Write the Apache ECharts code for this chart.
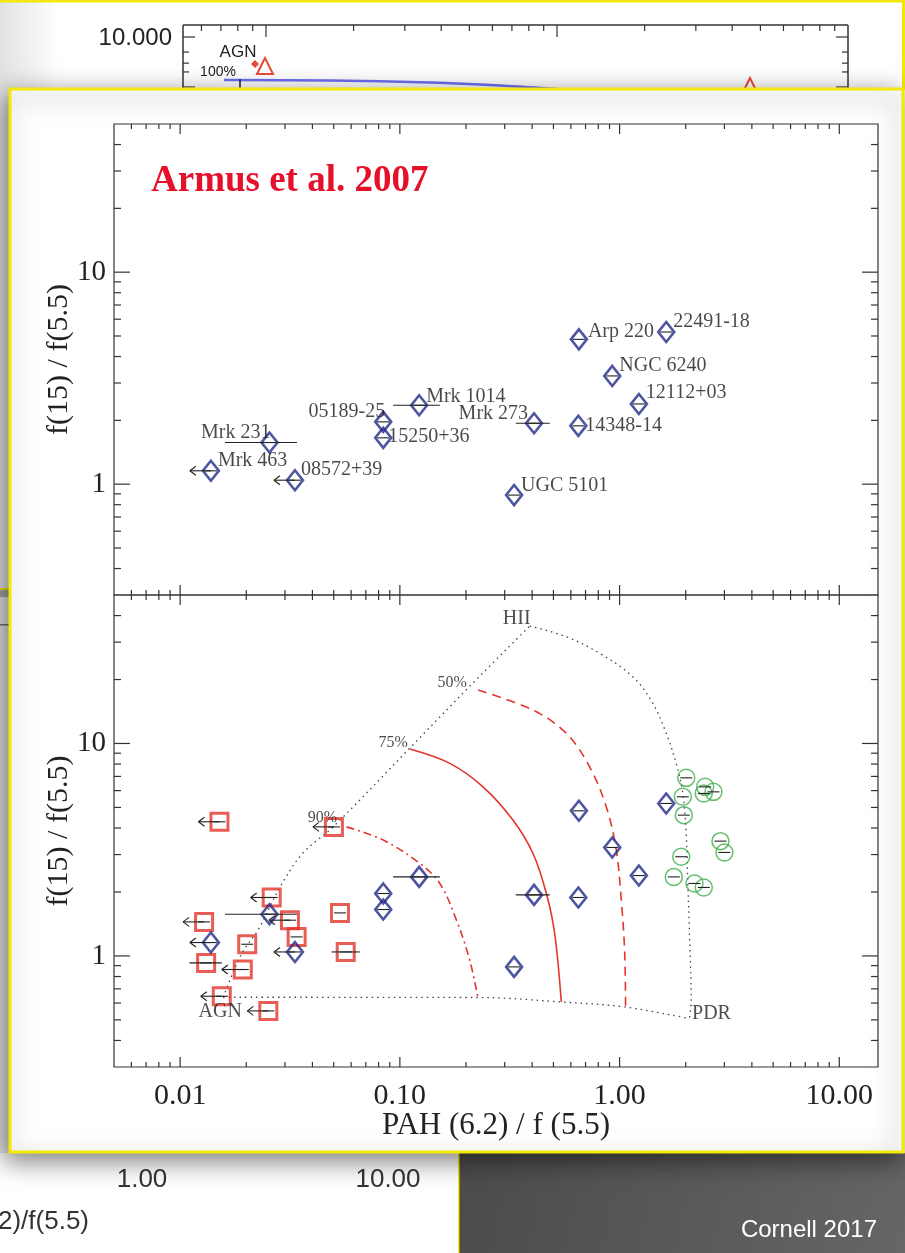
<!DOCTYPE html>
<html><head><meta charset="utf-8">
<script src="https://cdn.jsdelivr.net/npm/echarts@6/dist/echarts.min.js"></script>
<style>html,body{margin:0;padding:0;background:#fff;overflow:hidden}#c{width:905px;height:1253px}</style>
</head><body><div id="c"></div>
<script>
// ---------------- DATA ----------------
const xTickValues = [0.01, 0.1, 1, 10];
const xTickLabels = ['0.01', '0.10', '1.00', '10.00'];
const xMinorTicks = [0.006,0.007,0.008,0.009,0.02,0.03,0.04,0.05,0.06,0.07,0.08,0.09,0.2,0.3,0.4,0.5,0.6,0.7,0.8,0.9,2,3,4,5,6,7,8,9];
const yTickValues = [1, 10];
const yTickLabels = ['1', '10'];
const yMinorTicks = [0.4,0.5,0.6,0.7,0.8,0.9,2,3,4,5,6,7,8,9,20,30,40];
const X_MIN = 0.005, X_MAX = 15, Y_MIN = 0.3, Y_MAX = 50;

// ULIRGs (blue diamonds)
const diamondNames = ['Mrk 463','Mrk 231','08572+39','05189-25','15250+36','Mrk 1014','Mrk 273','UGC 5101','Arp 220','22491-18','NGC 6240','12112+03','14348-14'];
const diamondX = [0.0138,0.0255,0.0333,0.084,0.084,0.1224,0.408,0.331,0.653,1.63,0.926,1.224,0.649];
const diamondY = [1.156,1.572,1.044,1.967,1.654,2.355,1.938,0.888,4.82,5.22,3.24,2.39,1.884];
const diamondUpperLimit = [1,0,1,0,0,0,0,0,0,0,0,0,0];
const diamondErrLo = [null,0.016,null,null,null,0.0932,0.337,null,null,null,null,null,null];
const diamondErrHi = [null,0.034,null,null,null,0.152,0.481,null,null,null,null,null,null];

// AGN (red squares)
const agnX = [0.0151,0.0501,0.0261,0.01285,0.0316,0.0534,0.0339,0.0202,0.0567,0.01313,0.01928,0.01547,0.0252];
const agnY = [4.28,4.05,1.884,1.446,1.473,1.594,1.229,1.135,1.044,0.927,0.863,0.646,0.551];
const agnUpperLimit = [1,1,1,1,1,0,0,0,0,0,1,1,1];
const agnErrLo = [null,null,null,null,null,null,null,null,0.0489,0.01102,null,null,null];
const agnErrHi = [null,null,null,null,null,null,null,null,0.0658,0.01547,null,null,null];

// starbursts (green circles)
const sbX = [2.011,2.452,2.675,2.416,1.94,1.96,2.878,3.0,1.908,1.765,2.193,2.416];
const sbY = [6.89,6.25,5.92,5.82,5.61,4.60,3.47,3.07,2.93,2.355,2.193,2.10];

// mixing lines
const mixAgnHiiX = [0.0157,0.0191,0.0226,0.0285,0.0362,0.0496,0.111,0.208,0.39];
const mixAgnHiiY = [0.639,1.03,1.322,2.11,3.05,4.04,9.52,18.6,35.7];
const mixAgnPdrX = [0.0157,0.231,0.543,1.054,2.08];
const mixAgnPdrY = [0.639,0.637,0.607,0.575,0.507];
const mixHiiPdrX = [0.39,0.5725,0.811,1.149,1.417,1.631,1.81,1.94,2.01,2.044,2.08,2.118,2.08];
const mixHiiPdrY = [35.7,31.8,26.6,20.6,15.45,11.16,8.06,5.82,3.77,2.19,1.275,0.618,0.507];
const frac50X = [0.227,0.4036,0.5725,0.7305,0.870,0.966,1.018,1.054,1.065];
const frac50Y = [17.84,14.36,11.16,7.77,5.03,3.15,1.83,1.064,0.575];
const frac75X = [0.111,0.1688,0.239,0.327,0.4036,0.4644,0.5065,0.543];
const frac75Y = [9.41,8.06,6.25,4.36,3.035,1.967,1.275,0.607];
const frac90X = [0.0572,0.084,0.1233,0.152,0.181,0.208,0.227];
const frac90Y = [4.05,3.51,2.724,2.193,1.473,0.954,0.63];
const mixLabels = ['AGN','HII','PDR','90%','75%','50%'];
const mixLabelX = [0.0157,0.39,2.08,0.0496,0.111,0.208];
const mixLabelY = [0.639,35.7,0.507,4.04,9.52,18.6];

// ---------------- STYLE / LAYOUT ----------------
const SERIF = "'Liberation Serif','DejaVu Serif',serif";
const SANS = "'Liberation Sans Narrow','Liberation Sans',sans-serif";
const BLUE = '#222a88', RED = '#e2352b', GREEN = '#3dae4b', YEL = '#f4e900';
const labelLayout = {
 'Mrk 463':['left',7,-10],'Mrk 231':['right',1,-10],'08572+39':['left',6,-10],'05189-25':['right',2,-10],
 '15250+36':['left',5,-1],'Mrk 1014':['left',7,-9],'Mrk 273':['right',-6,-9],'UGC 5101':['left',7,-9],
 'Arp 220':['left',9,-8],'22491-18':['left',7,-10],'NGC 6240':['left',7,-10],'12112+03':['left',7,-11],'14348-14':['left',7,0]
};
const mixLabelLayout = {
 'AGN':['center',-3,15,20],'HII':['center',-13,-7,20],'PDR':['center',22,-5,20],
 '90%':['right',4,-9,16],'75%':['right',-2,-5,16],'50%':['right',-3,-3,16]
};

const fmt = (vals, labs) => v => {
  for (let i = 0; i < vals.length; i++) if (Math.abs(Math.log10(v) - Math.log10(vals[i])) < 1e-6) return labs[i];
  return '';
};

function tickSeries(gi, vals, dir, len) {
  return {
    type: 'custom', xAxisIndex: gi, yAxisIndex: gi, silent: true, z: 5,
    data: vals.map(v => dir === 'x' ? [v, 1] : [1, v]),
    renderItem: (params, api) => {
      let s;
      if (dir === 'x') {
        const v = api.value(0);
        const a = api.coord([v, Y_MIN]), b = api.coord([v, Y_MAX]);
        s = [[a[0], a[1], a[0], a[1] - len], [b[0], b[1], b[0], b[1] + len]];
      } else {
        const v = api.value(1);
        const a = api.coord([X_MIN, v]), b = api.coord([X_MAX, v]);
        s = [[a[0], a[1], a[0] + len, a[1]], [b[0], b[1], b[0] - len, b[1]]];
      }
      return { type: 'group', children: s.map(q => ({ type: 'line', shape: { x1: q[0], y1: q[1], x2: q[2], y2: q[3] }, style: { stroke: '#333', lineWidth: 1.2 } })) };
    }
  };
}

function errSeries(gi, xs, ys, lo, hi, ul) {
  return {
    type: 'custom', xAxisIndex: gi, yAxisIndex: gi, silent: true, z: 4,
    data: xs.map((x, i) => [x, ys[i]]),
    renderItem: (params, api) => {
      const i = params.dataIndex;
      const p = api.coord([api.value(0), api.value(1)]);
      const ch = [];
      const L = (x1, y1, x2, y2) => ch.push({ type: 'line', shape: { x1, y1, x2, y2 }, style: { stroke: '#222', lineWidth: 1.1 } });
      L(p[0] - 6, p[1], p[0] + 6, p[1]);
      if (lo && lo[i] != null) { const a = api.coord([lo[i], ys[i]]), b = api.coord([hi[i], ys[i]]); L(a[0], a[1], b[0], b[1]); }
      if (ul && ul[i]) { L(p[0], p[1], p[0] - 21, p[1]); L(p[0] - 21, p[1], p[0] - 15, p[1] - 4.5); L(p[0] - 21, p[1], p[0] - 15, p[1] + 4.5); }
      return { type: 'group', children: ch };
    }
  };
}

function lineSeries(xs, ys, color, type, width) {
  return { type: 'line', xAxisIndex: 1, yAxisIndex: 1, silent: true, symbol: 'none', smooth: 0.35, z: 2,
    data: xs.map((x, i) => [x, ys[i]]), lineStyle: { color, type, width } };
}

function scatter(gi, xs, ys, symbol, size, color, bw, extra) {
  return Object.assign({ type: 'scatter', xAxisIndex: gi, yAxisIndex: gi, silent: true, z: 3, symbol, symbolSize: size,
    itemStyle: { color: 'rgba(0,0,0,0)', borderColor: color, borderWidth: bw },
    data: xs.map((x, i) => [x, ys[i]]) }, extra || {});
}

function xAxisCfg(gi, labels) {
  return { type: 'log', logBase: 10, gridIndex: gi, min: X_MIN, max: X_MAX,
    axisLine: { show: false }, axisTick: { show: false }, splitLine: { show: false }, minorTick: { show: false },
    axisLabel: { show: labels, formatter: fmt(xTickValues, xTickLabels), fontFamily: SERIF, fontSize: 30, color: '#222', margin: 14, showMinLabel: true, showMaxLabel: true },
    name: labels ? 'PAH (6.2) / f (5.5)' : '', nameLocation: 'middle', nameGap: 43, nameMoveOverlap: false,
    nameTextStyle: { fontFamily: SERIF, fontSize: 31, color: '#222' } };
}
function yAxisCfg(gi) {
  return { type: 'log', logBase: 10, gridIndex: gi, min: Y_MIN, max: Y_MAX,
    axisLine: { show: false }, axisTick: { show: false }, splitLine: { show: false }, minorTick: { show: false },
    axisLabel: { formatter: fmt(yTickValues, yTickLabels), fontFamily: SERIF, fontSize: 29, color: '#222', margin: 8 },
    name: 'f(15) / f(5.5)', nameLocation: 'middle', nameGap: 40, nameMoveOverlap: false,
    nameTextStyle: { fontFamily: SERIF, fontSize: 30, color: '#222' } };
}

// ---- background slide decoration (behind the figure) ----
const bg = [];
const R = (x, y, w, h, fill, z) => bg.push({ type: 'rect', shape: { x, y, width: w, height: h }, style: { fill }, z: z || -20, silent: true });
const Ln = (x1, y1, x2, y2, stroke, w) => bg.push({ type: 'line', shape: { x1, y1, x2, y2 }, style: { stroke, lineWidth: w || 1.2 }, z: -19, silent: true });
const T = (x, y, text, size, color, align, font) => bg.push({ type: 'text', x, y, style: { text, font: size + 'px ' + (font || SANS), fill: color, align: align || 'left', verticalAlign: 'middle' }, z: -18, silent: true });
R(0, 0, 905, 1253, '#ffffff');
bg.push({ type: 'rect', shape: { x: 0, y: 0, width: 60, height: 89 }, z: -20, silent: true,
  style: { fill: new echarts.graphic.LinearGradient(0, 0, 1, 0, [{ offset: 0, color: '#e2e2e2' }, { offset: 1, color: '#ffffff' }]) } });
R(0, 89, 10, 1064, '#e6e6e6');
R(0, 588, 10, 2, YEL, -19); R(0, 590, 10, 7, '#a9a9a9', -19); R(0, 624, 10, 1.5, '#777', -19);
bg.push({ type: 'rect', shape: { x: 459, y: 1153, width: 446, height: 100 }, z: -20, silent: true,
  style: { fill: new echarts.graphic.LinearGradient(0, 0, 1, 1, [{ offset: 0, color: '#4b4b4b' }, { offset: 1, color: '#666' }]) } });
R(458, 1153, 1.5, 100, YEL, -19);
R(0, 0, 905, 2.5, YEL, -19); R(902, 0, 3, 90, YEL, -19);
// fragment of the underlying slide's chart
T(172, 38, '10.000', 24, '#222', 'right');
Ln(183, 25, 848, 25, '#333', 1.5); Ln(183, 25, 183, 90, '#333', 1.5); Ln(848, 25, 848, 90, '#333', 1.5);
[266 - 291, 266, 557].forEach(d => {
  for (let k = 1; k <= 9; k++) {
    const x = d + 291 * Math.log10(k);
    if (x > 185 && x < 846) Ln(x, 25, x, 25 + (k === 1 ? 12 : 6), '#333', 1.2);
  }
});
[1, 2, 3, 5, 10].forEach(k => {
  const y = 37 + 50 * (1 - Math.log10(k));
  const l = (k === 1 || k === 10) ? 12 : 6;
  Ln(183, y, 183 + l, y, '#333', 1.2); Ln(848, y, 848 - l, y, '#333', 1.2);
});
T(238, 52, 'AGN', 17, '#222', 'center', "'Liberation Sans',sans-serif");
T(218, 72, '100%', 14, '#222', 'center', "'Liberation Sans',sans-serif");
bg.push({ type: 'polyline', shape: { points: [[224, 80], [330, 80.5], [430, 82.5], [500, 85.5], [563, 89.5], [620, 93]], smooth: 0.3 }, style: { stroke: '#6f6ff5', lineWidth: 2.5, fill: null }, z: -19, silent: true });
bg.push({ type: 'polygon', shape: { points: [[265, 58], [257, 74], [273, 74]] }, style: { stroke: '#e84a3a', lineWidth: 2, fill: null }, z: -19, silent: true });
bg.push({ type: 'polygon', shape: { points: [[255, 60], [259, 64], [255, 68], [251, 64]] }, style: { fill: '#e84a3a' }, z: -19, silent: true });
bg.push({ type: 'polygon', shape: { points: [[750, 78], [742, 94], [758, 94]] }, style: { stroke: '#e84a3a', lineWidth: 2, fill: null }, z: -19, silent: true });
Ln(240, 79, 240, 90, '#222', 1.5);
T(142, 1180, '1.00', 26, '#333', 'center');
T(388, 1180, '10.00', 26, '#333', 'center');
T(-2, 1222, '2)/f(5.5)', 26, '#333', 'left');
T(877, 1230, 'Cornell 2017', 24, '#ffffff', 'right');
// white figure panel
bg.push({ type: 'rect', shape: { x: 10, y: 89, width: 893, height: 1063 }, z: -10, silent: true,
  style: { fill: '#fff', stroke: YEL, lineWidth: 3, shadowBlur: 24, shadowColor: 'rgba(0,0,0,0.5)', shadowOffsetX: -4, shadowOffsetY: 7 } });

// ---------------- CHART ----------------
const chart = echarts.init(document.getElementById('c'), null, { renderer: 'canvas' });
const series = [];
[0, 1].forEach(g => {
  series.push(tickSeries(g, xTickValues, 'x', 10));
  series.push(tickSeries(g, xMinorTicks, 'x', 5));
  series.push(tickSeries(g, yTickValues, 'y', 16));
  series.push(tickSeries(g, yMinorTicks, 'y', 7));
});
// top panel: labelled ULIRGs
series.push(scatter(0, diamondX, diamondY, 'diamond', [16, 20], BLUE, 2.6, {
  data: diamondX.map((x, i) => {
    const L = labelLayout[diamondNames[i]];
    return { value: [x, diamondY[i]], label: { show: true, formatter: diamondNames[i], position: ['50%', '50%'], align: L[0], verticalAlign: 'middle', offset: [L[1], L[2]], fontFamily: SERIF, fontSize: 20, color: '#1a1a1a' } };
  })
}));
series.push(errSeries(0, diamondX, diamondY, diamondErrLo, diamondErrHi, diamondUpperLimit));
// bottom panel: diagnostic diagram
series.push(lineSeries(mixAgnHiiX, mixAgnHiiY, '#444', [1.5, 4], 1.3));
series.push(lineSeries(mixAgnPdrX, mixAgnPdrY, '#444', [1.5, 4], 1.3));
series.push(lineSeries(mixHiiPdrX, mixHiiPdrY, '#444', [1.5, 4], 1.3));
series.push(lineSeries(frac75X, frac75Y, RED, 'solid', 1.6));
series.push(lineSeries(frac50X, frac50Y, RED, [9, 6], 1.6));
series.push(lineSeries(frac90X, frac90Y, RED, [8, 4, 2, 4], 1.6));
series.push({ type: 'scatter', xAxisIndex: 1, yAxisIndex: 1, silent: true, z: 6, symbolSize: 0,
  data: mixLabelX.map((x, i) => {
    const L = mixLabelLayout[mixLabels[i]];
    return { value: [x, mixLabelY[i]], label: { show: true, formatter: mixLabels[i], position: ['50%', '50%'], align: L[0], verticalAlign: 'middle', offset: [L[1], L[2]], fontFamily: SERIF, fontSize: L[3], color: '#222' } };
  }) });
series.push(scatter(1, agnX, agnY, 'rect', 17, RED, 3));
series.push(errSeries(1, agnX, agnY, agnErrLo, agnErrHi, agnUpperLimit));
series.push(scatter(1, diamondX, diamondY, 'diamond', [16, 20], BLUE, 2.6));
series.push(errSeries(1, diamondX, diamondY, diamondErrLo, diamondErrHi, diamondUpperLimit));
series.push(scatter(1, sbX, sbY, 'circle', 17, GREEN, 1.5));
series.push(errSeries(1, sbX, sbY, null, null, null));

chart.setOption({
  animation: false,
  title: { text: 'Armus et al. 2007', left: 146, top: 158, textStyle: { fontFamily: SERIF, fontWeight: 'bold', fontSize: 37, color: '#e5112b' } },
  graphic: { elements: bg },
  grid: [
    { left: 114, right: 27, top: 124, height: 471, show: true, borderColor: '#333', borderWidth: 1.2, backgroundColor: 'transparent' },
    { left: 114, right: 27, top: 595, height: 472, show: true, borderColor: '#333', borderWidth: 1.2, backgroundColor: 'transparent' }
  ],
  xAxis: [xAxisCfg(0, false), xAxisCfg(1, true)],
  yAxis: [yAxisCfg(0), yAxisCfg(1)],
  series
});
</script></body></html>
